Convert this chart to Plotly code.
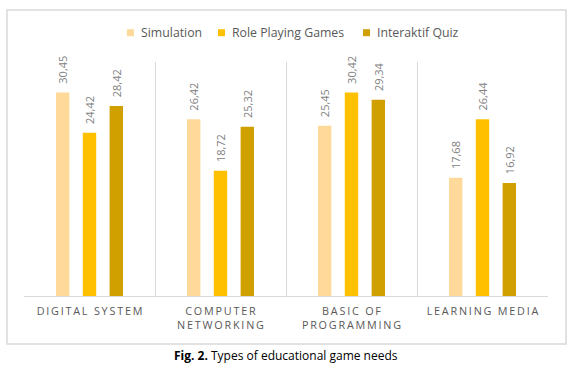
import plotly.graph_objects as go

categories = ["DIGITAL SYSTEM", "COMPUTER<br>NETWORKING", "BASIC OF<br>PROGRAMMING", "LEARNING MEDIA"]
series_names = ["Simulation", "Role Playing Games", "Interaktif Quiz"]
simulation = [30.45, 26.42, 25.45, 17.68]
role_playing = [24.42, 18.72, 30.42, 26.44]
quiz = [28.42, 25.32, 29.34, 16.92]
colors = ["#FFD99A", "#FFC000", "#D09F00"]

def spaced(s):
    parts = s.split("<br>")
    return "<br>".join("\u2009".join(list(p)) for p in parts)

def fmt(v):
    return "\u00a0\u00a0" + f"{v:.2f}".replace(".", ",")

PL, PT, PW, PH = 24, 62, 524, 234  # plot area in pixels

def px(x):
    return (x - PL) / PW

def py(y):
    return (PT + PH - y) / PH

fig = go.Figure()
for name, vals, col in zip(series_names, [simulation, role_playing, quiz], colors):
    fig.add_trace(go.Bar(
        name=name, x=[spaced(c) for c in categories], y=vals,
        marker=dict(color=col, line=dict(width=0)),
        text=[fmt(v) for v in vals], textposition="outside", textangle=-90,
        constraintext="none",
        textfont=dict(family="Open Sans", size=11, color="#808080"),
        cliponaxis=False, showlegend=False, hoverinfo="skip",
    ))

# compact legend drawn like the reference
legend_text_x = [139, 230, 375]
shapes = [dict(type="rect", xref="paper", yref="paper",
               x0=px(7), x1=px(566), y0=py(344), y1=py(10),
               line=dict(color="#D9D9D9", width=1.5), layer="below")]
annotations = []
for tx, name, col in zip(legend_text_x, series_names, colors):
    shapes.append(dict(type="rect", xref="paper", yref="paper",
                       x0=px(tx - 12), x1=px(tx - 5), y0=py(36.2), y1=py(29.2),
                       fillcolor=col, line=dict(width=0)))
    annotations.append(dict(text=name, xref="paper", yref="paper",
                            x=px(tx), y=py(32.7), xanchor="left", yanchor="middle",
                            showarrow=False,
                            font=dict(family="Open Sans", size=12.3, color="#595959")))

annotations.append(dict(text="<b>Fig. 2.</b> Types of educational game needs",
                        xref="paper", yref="paper", x=px(286), y=py(355.5),
                        xanchor="center", yanchor="middle", showarrow=False,
                        font=dict(family="Open Sans", size=12, color="black")))

fig.update_layout(
    width=575, height=384,
    margin=dict(l=PL, r=575 - PL - PW, t=PT, b=384 - PT - PH),
    paper_bgcolor="white", plot_bgcolor="white",
    barmode="group", bargap=0.386, bargroupgap=0.5,
    showlegend=False,
    xaxis=dict(tickson="boundaries", showgrid=True, gridcolor="#D9D9D9", gridwidth=1,
               showline=True, linecolor="#D9D9D9", ticks="", ticklabelstandoff=5,
               tickfont=dict(family="Open Sans", size=10.8, color="#595959"),
               fixedrange=True),
    yaxis=dict(range=[0, 35], visible=False, showgrid=False, zeroline=False, fixedrange=True),
    shapes=shapes,
    annotations=annotations,
)

fig.write_html("out.html", config={"displayModeBar": False},
               post_script="document.body.style.margin='0';")
